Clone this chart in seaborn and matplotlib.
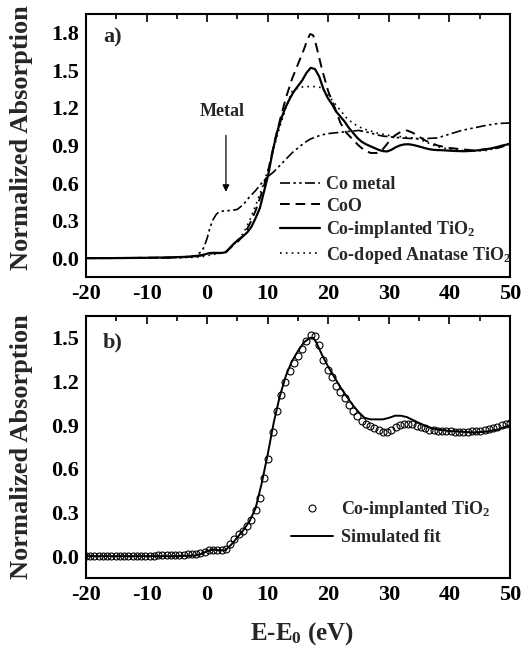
import numpy as np
import matplotlib
matplotlib.use('Agg')
import matplotlib.pyplot as plt
from matplotlib.ticker import MultipleLocator
import seaborn as sns

sns.set_style('white')
plt.rcParams['font.family'] = ['Liberation Serif', 'DejaVu Serif']
plt.rcParams['font.weight'] = 'bold'
plt.rcParams['axes.unicode_minus'] = False
plt.rcParams['mathtext.fontset'] = 'custom'
plt.rcParams['mathtext.rm'] = 'Liberation Serif:bold'
plt.rcParams['mathtext.it'] = 'Liberation Serif:bold'
plt.rcParams['mathtext.bf'] = 'Liberation Serif:bold'

# Co-implanted TiO2, measured (energy step 0.7 eV from -20 to 50)
e_meas = np.round(np.arange(-20, 50.01, 0.7), 2)
mu_implanted = [
    0.000, 0.000, 0.000, 0.000, 0.000, 0.000, 0.000, 0.001, 0.001, 0.001,
    0.002, 0.002, 0.002, 0.003, 0.003, 0.004, 0.004, 0.005, 0.005, 0.006,
    0.007, 0.008, 0.009, 0.010, 0.012, 0.014, 0.017, 0.022, 0.030, 0.040,
    0.043, 0.042, 0.042, 0.048, 0.085, 0.120, 0.150, 0.175, 0.205, 0.250,
    0.320, 0.400, 0.535, 0.670, 0.850, 1.000, 1.110, 1.200, 1.270, 1.330,
    1.375, 1.420, 1.480, 1.520, 1.510, 1.450, 1.350, 1.280, 1.230, 1.170,
    1.130, 1.090, 1.040, 1.000, 0.960, 0.930, 0.910, 0.895, 0.880, 0.865,
    0.855, 0.852, 0.865, 0.885, 0.900, 0.908, 0.910, 0.905, 0.897, 0.888,
    0.878, 0.870, 0.865, 0.863, 0.862, 0.860, 0.858, 0.856, 0.855, 0.854,
    0.855, 0.857, 0.860, 0.863, 0.868, 0.873, 0.880, 0.888, 0.898, 0.905,
    0.912]

# reference spectra
e_metal = [-20, -10, -5, -3, -2, -1, -0.5, 0, 0.5, 1, 1.5, 2, 3, 4, 5, 6, 7, 8, 9, 10,
           11, 12, 13, 14, 15, 16, 17, 18, 19, 20, 22, 24, 25, 26, 27, 28, 29, 30,
           32, 34, 36, 38, 40, 42, 44, 46, 48, 50]
mu_metal = [0.0, 0.0, 0.005, 0.01, 0.02, 0.05, 0.09, 0.16, 0.25, 0.31, 0.35, 0.37, 0.38,
            0.38, 0.39, 0.43, 0.49, 0.54, 0.60, 0.65, 0.69, 0.74, 0.79, 0.84, 0.88,
            0.92, 0.95, 0.97, 0.985, 0.995, 1.005, 1.015, 1.02, 1.01, 1.0, 0.985,
            0.975, 0.97, 0.96, 0.955, 0.955, 0.96, 0.99, 1.02, 1.04, 1.06, 1.075, 1.08]

e_coo = [-20, -5, -2, 0, 1, 2, 3, 4, 5, 6, 7, 8, 9, 10, 11, 12, 13, 14, 15, 16, 16.5,
         17, 17.5, 18, 19, 20, 21, 22, 23, 24, 25, 26, 27, 28, 29, 30, 31, 32, 33,
         34, 35, 36, 38, 40, 42, 44, 46, 48, 50]
mu_coo = [0.0, 0.005, 0.015, 0.03, 0.04, 0.04, 0.045, 0.09, 0.13, 0.18, 0.27, 0.38,
          0.52, 0.68, 0.90, 1.10, 1.28, 1.43, 1.55, 1.67, 1.74, 1.79, 1.78, 1.70, 1.50,
          1.33, 1.21, 1.08, 1.00, 0.95, 0.90, 0.86, 0.84, 0.84, 0.87, 0.93, 0.98, 1.01,
          1.02, 1.0, 0.97, 0.94, 0.90, 0.88, 0.87, 0.86, 0.87, 0.88, 0.91]

e_anatase = [-20, -3, -1, 0, 1, 2, 3, 4, 5, 6, 7, 8, 9, 10, 11, 12, 13, 14, 15, 16, 17,
             18, 19, 20, 21, 22, 23, 24, 25, 26, 28, 30, 32, 34, 35, 36, 37, 38, 40, 42,
             44, 46, 48, 50]
mu_anatase = [0.0, 0.005, 0.01, 0.02, 0.03, 0.04, 0.05, 0.09, 0.14, 0.20, 0.30, 0.42,
              0.55, 0.70, 0.88, 1.05, 1.20, 1.33, 1.36, 1.37, 1.37, 1.37, 1.36, 1.30,
              1.24, 1.18, 1.12, 1.08, 1.05, 1.03, 1.0, 0.98, 0.97, 0.96, 0.95, 0.93,
              0.91, 0.89, 0.87, 0.86, 0.855, 0.86, 0.88, 0.92]

# simulated fit
e_fit = [-20, -10, -5, -2, -1, 0, 1, 2, 3, 4, 5, 6, 7, 8, 9, 10, 11, 12, 13, 14, 15,
         16, 17, 17.5, 18, 19, 20, 21, 22, 23, 24, 25, 26, 27, 28, 29, 30, 31, 32, 33,
         34, 35, 36, 37, 38, 39, 40, 42, 44, 46, 48, 50]
mu_fit = [0.0, 0.0, 0.0, 0.005, 0.015, 0.035, 0.045, 0.04, 0.04, 0.08, 0.13, 0.18,
          0.24, 0.33, 0.50, 0.70, 0.92, 1.10, 1.24, 1.34, 1.41, 1.47, 1.50, 1.50, 1.47,
          1.38, 1.30, 1.23, 1.16, 1.10, 1.04, 0.99, 0.95, 0.94, 0.94, 0.94, 0.95, 0.965,
          0.965, 0.955, 0.935, 0.915, 0.895, 0.88, 0.87, 0.865, 0.86, 0.855, 0.85,
          0.855, 0.87, 0.90]

fig = plt.figure(figsize=(5.30, 6.52), dpi=100)
ax1 = fig.add_axes([0.1623, 0.5752, 0.8, 0.4034])
ax2 = fig.add_axes([0.1623, 0.1135, 0.8, 0.4018])

tick_font = 16

def style_axes(ax, ylim):
    ax.set_xlim(-20, 50)
    ax.set_ylim(*ylim)
    ax.xaxis.set_major_locator(MultipleLocator(10))
    ax.xaxis.set_minor_locator(MultipleLocator(5))
    ax.yaxis.set_major_locator(MultipleLocator(0.3))
    ax.yaxis.set_minor_locator(MultipleLocator(0.06))
    ax.yaxis.set_major_formatter(matplotlib.ticker.FormatStrFormatter('%.1f'))
    ax.tick_params(which='both', direction='in', top=True, right=False,
                   labelsize=tick_font, width=1.2, colors='black')
    ax.tick_params(which='major', length=6, pad=5)
    ax.tick_params(which='minor', length=3.5)
    for s in ax.spines.values():
        s.set_linewidth(1.5)
        s.set_color('black')
    for lab in ax.get_xticklabels() + ax.get_yticklabels():
        lab.set_fontweight('bold')
    ax.set_ylabel('Normalized Absorption', fontsize=19, fontweight='bold')

# panel a
l1 = sns.lineplot(x=e_metal, y=mu_metal, ax=ax1, color='black', lw=1.2,
                  linestyle=(0, (6, 2, 1.5, 2, 1.5, 2))).lines[-1]
l2 = sns.lineplot(x=e_coo, y=mu_coo, ax=ax1, color='black', lw=1.4,
                  linestyle=(0, (5, 3))).lines[-1]
l3 = sns.lineplot(x=e_meas, y=mu_implanted, ax=ax1, color='black', lw=1.6).lines[-1]
l4 = sns.lineplot(x=e_anatase, y=mu_anatase, ax=ax1, color='black', lw=1.2,
                  linestyle=(0, (1, 2.5))).lines[-1]
style_axes(ax1, (-0.15, 1.95))
ax1.yaxis.set_label_coords(-0.125, 0.53)
ax1.text(0.04, 0.89, 'a)', transform=ax1.transAxes, fontsize=16, fontweight='bold')
ax1.text(2.45, 1.17, 'Metal', fontsize=13, fontweight='bold', ha='center', va='center')
ax1.annotate('', xy=(3.1, 0.53), xytext=(3.1, 0.98),
             arrowprops=dict(arrowstyle='-|>', color='black', lw=0.9,
                             mutation_scale=10, shrinkA=0, shrinkB=0))
ax1.legend([l1, l2, l3, l4],
           ['Co metal', 'CoO', r'Co-implanted TiO$_2$', r'Co-doped Anatase TiO$_2$'],
           loc='lower right', bbox_to_anchor=(1.02, 0.015), frameon=False,
           prop={'size': 13, 'weight': 'bold'}, handlelength=2.2, handletextpad=0.35,
           labelspacing=0.25, borderaxespad=0)

# panel b
p1 = sns.lineplot(x=e_meas, y=mu_implanted, ax=ax2, color='black', linestyle='none',
                  marker='o', markersize=5, markerfacecolor='none',
                  markeredgecolor='black', markeredgewidth=0.8).lines[-1]
p2 = sns.lineplot(x=e_fit, y=mu_fit, ax=ax2, color='black', lw=1.4).lines[-1]
style_axes(ax2, (-0.15, 1.65))
ax2.yaxis.set_label_coords(-0.125, 0.5)
ax2.text(0.04, 0.88, 'b)', transform=ax2.transAxes, fontsize=16, fontweight='bold')
ax2.set_xlabel(r'E-E$_0$ (eV)', fontsize=18, fontweight='bold')
ax2.xaxis.set_label_coords(0.51, -0.16)
ax2.legend([p1, p2], [r'Co-implanted TiO$_2$', 'Simulated fit'],
           loc='lower right', bbox_to_anchor=(0.97, 0.095), frameon=False,
           prop={'size': 13, 'weight': 'bold'}, handlelength=2.3, handletextpad=0.45,
           labelspacing=0.5, borderaxespad=0, numpoints=1)

plt.savefig('out.png', dpi=100)
